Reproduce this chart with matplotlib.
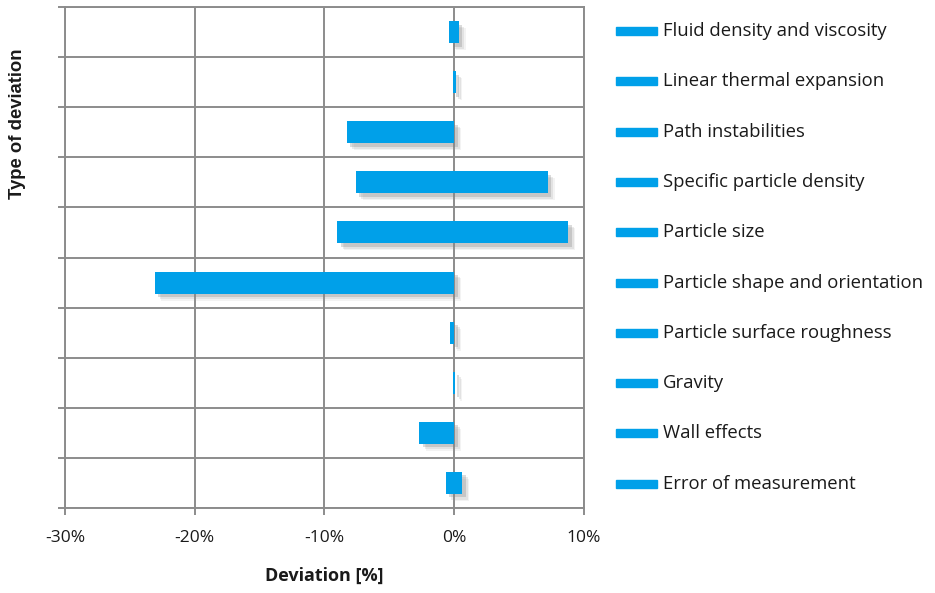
import matplotlib
matplotlib.use("Agg")
import matplotlib.pyplot as plt
import matplotlib.patches as patches
import matplotlib.patheffects as pe
from matplotlib.ticker import FuncFormatter, MultipleLocator
import numpy as np

# Data, top to bottom
categories = [
    "Fluid density and viscosity",
    "Linear thermal expansion",
    "Path instabilities",
    "Specific particle density",
    "Particle size",
    "Particle shape and orientation",
    "Particle surface roughness",
    "Gravity",
    "Wall effects",
    "Error of measurement",
]
dev_min = [-0.4, -0.12, -8.3, -7.6, -9.0, -23.1, -0.3, -0.08, -2.7, -0.65]
dev_max = [0.36, 0.1, 0.0, 7.2, 8.8, 0.0, 0.0, 0.08, 0.0, 0.6]

BAR_COLOR = "#00a0e9"
GRID_COLOR = "#8c8c8c"
FONT = "Open Sans"

fig = plt.figure(figsize=(9.35, 5.93), dpi=100)
ax = fig.add_axes([65 / 935, 85 / 593, 519 / 935, 501 / 593])

n = len(categories)
y = np.arange(n)
# soft drop shadow: a few stacked offsets
shadow = [
    pe.SimplePatchShadow(offset=(5, -5), shadow_rgbFace="#a0a0a0", alpha=0.12),
    pe.SimplePatchShadow(offset=(4, -4), shadow_rgbFace="#959595", alpha=0.18),
    pe.SimplePatchShadow(offset=(2.5, -2.5), shadow_rgbFace="#808080", alpha=0.28),
    pe.Normal(),
]

bars_neg = ax.barh(y, dev_min, height=0.44, color=BAR_COLOR, zorder=3)
bars_pos = ax.barh(y, dev_max, height=0.44, color=BAR_COLOR, zorder=3)
for b in list(bars_neg) + list(bars_pos):
    if b.get_width() != 0:
        b.set_path_effects(shadow)

ax.set_xlim(-30, 10)
ax.set_ylim(n - 0.5, -0.5)
ax.xaxis.set_major_locator(MultipleLocator(10))
ax.xaxis.set_major_formatter(FuncFormatter(lambda v, p: f"{v:.0f}%"))
ax.set_yticks(np.arange(n + 1) - 0.5)
ax.set_yticklabels([])

ax.grid(True, color=GRID_COLOR, linewidth=1.4, zorder=0)
ax.set_axisbelow(True)
for s in ax.spines.values():
    s.set_color(GRID_COLOR)
    s.set_linewidth(1.4)
ax.tick_params(axis="both", direction="out", length=5, width=1.4, color=GRID_COLOR)
ax.tick_params(axis="x", labelsize=12.5, pad=11, labelcolor="#1a1a1a")
for lbl in ax.get_xticklabels():
    lbl.set_fontfamily(FONT)

ax.set_xlabel("Deviation [%]", fontsize=13, fontweight="bold", family=FONT, labelpad=15, color="#1a1a1a")
fig.text(18 / 935, 1 - 124 / 593, "Type of deviation", rotation=90, ha="center", va="center",
         fontsize=13.3, fontweight="bold", family="Liberation Sans", color="#1a1a1a")

# legend on the right, one entry per category
fig_w, fig_h = 935, 593
for i, name in enumerate(categories):
    yc = 31 + i * 50.3
    fig.add_artist(patches.Rectangle((616 / fig_w, 1 - (yc + 4) / fig_h), 41 / fig_w, 8 / fig_h,
                                     transform=fig.transFigure, color=BAR_COLOR))
    fig.text(663 / fig_w, 1 - yc / fig_h, name, ha="left", va="center", fontsize=13.3,
             family=FONT, color="#1a1a1a")

fig.savefig("out.png", dpi=100)
